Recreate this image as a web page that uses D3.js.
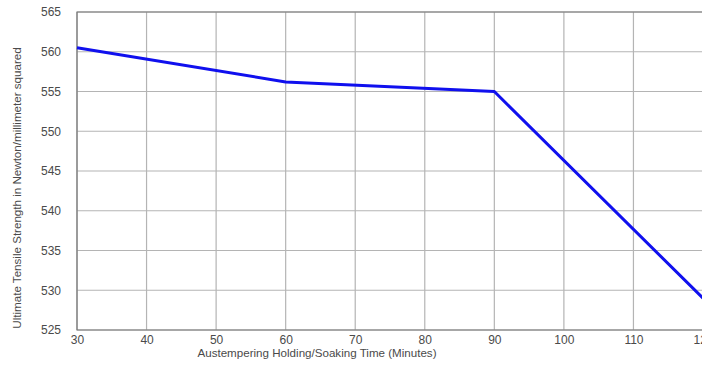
<!DOCTYPE html>
<html>
<head>
<meta charset="utf-8">
<script src="https://cdn.jsdelivr.net/npm/d3@7"></script>
<style>
  html, body { margin: 0; padding: 0; background: #fff; overflow: hidden; }
  svg { display: block; font-family: "Liberation Sans", Arial, sans-serif; }
</style>
</head>
<body>
<svg id="chart" width="702" height="366"></svg>
<script>
// Soaking time (minutes) vs. ultimate tensile strength (N/mm²)
const soakTime = [30, 60, 90, 120];
const tensileStrength = [560.5, 556.2, 555.0, 529.0];
const xTicks = [30, 40, 50, 60, 70, 80, 90, 100, 110, 120];
const yTicks = [525, 530, 535, 540, 545, 550, 555, 560, 565];

const svg = d3.select("#chart");
const plotLeft = 77, plotRight = 703, plotTop = 12, plotBottom = 330;

const x = d3.scaleLinear().domain([30, 120]).range([plotLeft, plotRight]);
const y = d3.scaleLinear().domain([525, 565]).range([plotBottom, plotTop]);

// grid
svg.append("g").selectAll("line").data(xTicks).join("line")
  .attr("x1", d => x(d)).attr("x2", d => x(d))
  .attr("y1", plotTop).attr("y2", plotBottom)
  .attr("stroke", "#b4b4b4").attr("stroke-width", 1.2);
svg.append("g").selectAll("line").data(yTicks).join("line")
  .attr("x1", plotLeft).attr("x2", plotRight)
  .attr("y1", d => y(d)).attr("y2", d => y(d))
  .attr("stroke", "#b4b4b4").attr("stroke-width", 1.2);

// frame
svg.append("path")
  .attr("d", `M${plotRight},${plotTop}H${plotLeft}V${plotBottom}H${plotRight}`)
  .attr("fill", "none").attr("stroke", "#777").attr("stroke-width", 1.2);

// axes labels
const xAxis = d3.axisBottom(x).tickValues(xTicks).tickSize(0).tickPadding(5);
const gx = svg.append("g").attr("transform", `translate(0,${plotBottom})`).call(xAxis);
gx.select(".domain").remove();
gx.selectAll("text").attr("font-size", 12).attr("fill", "#4a4a4a")
  .attr("font-family", "Liberation Sans, Arial, sans-serif");

const yAxis = d3.axisLeft(y).tickValues(yTicks).tickSize(0).tickPadding(16);
const gy = svg.append("g").attr("transform", `translate(${plotLeft},0)`).call(yAxis);
gy.select(".domain").remove();
gy.selectAll("text").attr("font-size", 12).attr("fill", "#4a4a4a")
  .attr("font-family", "Liberation Sans, Arial, sans-serif");

// series line
const line = d3.line().x((d, i) => x(soakTime[i])).y(d => y(d));
svg.append("path")
  .datum(tensileStrength)
  .attr("d", line)
  .attr("fill", "none")
  .attr("stroke", "#1010ee")
  .attr("stroke-width", 3)
  .attr("stroke-linejoin", "round");

// titles
svg.append("text")
  .attr("x", 317).attr("y", 357)
  .attr("text-anchor", "middle")
  .attr("font-size", 11.6).attr("fill", "#4a4a4a")
  .text("Austempering Holding/Soaking Time (Minutes)");

svg.append("text")
  .attr("transform", "translate(21,188) rotate(-90)")
  .attr("text-anchor", "middle")
  .attr("font-size", 11.6).attr("fill", "#4a4a4a")
  .text("Ultimate Tensile Strength in Newton/millimeter squared");
</script>
</body>
</html>
